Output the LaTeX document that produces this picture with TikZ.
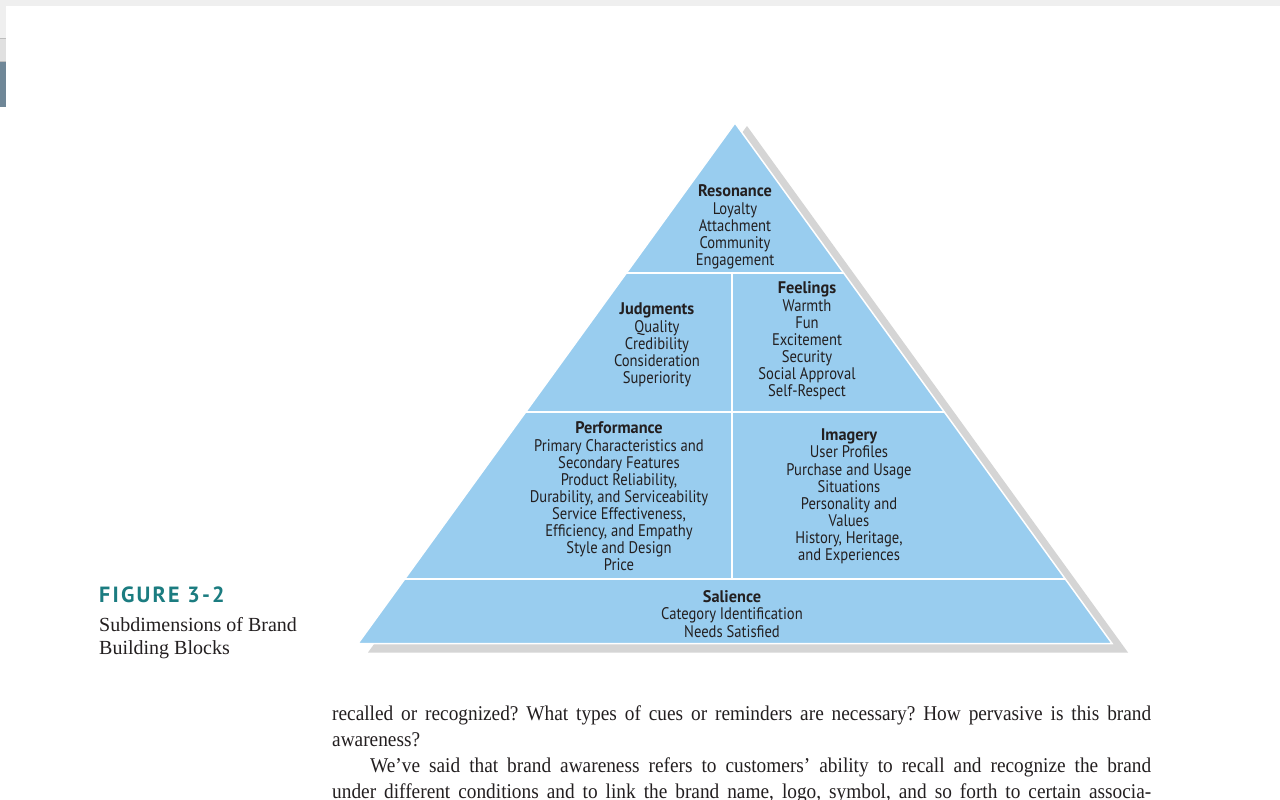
\documentclass[tikz,border=0pt]{standalone}
\usepackage{fontspec}
\usetikzlibrary{calc}
\setmainfont{Liberation Serif}
\newfontfamily\pyr[FakeStretch=0.87]{PT Sans}
\newfontfamily\pyrb[FakeStretch=0.97]{PT Sans Bold}
\newfontfamily\figf[LetterSpace=10]{PT Sans}
\newfontfamily\bodyf[FakeStretch=0.92]{Liberation Serif}
\definecolor{pyblue}{HTML}{99CDEF}
\definecolor{shadowgray}{HTML}{D5D5D5}
\definecolor{figteal}{HTML}{1B7C80}
\definecolor{txt}{HTML}{231F20}
\definecolor{chromeA}{HTML}{EFEFEF}
\definecolor{chromeB}{HTML}{E0E0E0}
\definecolor{chromeline}{HTML}{BDBDBD}
\definecolor{slate}{HTML}{6F8797}
\newcommand{\hd}[1]{{\pyrb #1}}
\begin{document}
\frenchspacing
\begin{tikzpicture}[x=1pt,y=-1pt,
  block/.style={font=\pyr\fontsize{16.8}{17.1}\selectfont, align=center, text=txt, inner sep=0pt},
  divider/.style={draw=white, line width=2pt},
  body/.style={font=\bodyf\fontsize{21}{26}\selectfont, text=txt, inner sep=0pt, anchor=base west},
  caption/.style={font=\fontsize{20}{23}\selectfont, text=txt, inner sep=0pt, anchor=base west}]
\useasboundingbox (0,0) rectangle (1280,800);
\fill[white] (0,0) rectangle (1280,800);
% window chrome
\fill[chromeA] (0,0) rectangle (1280,6);
\fill[chromeA] (0,6) rectangle (6,38);
\fill[chromeB] (0,39) rectangle (6,61);
\draw[chromeline] (0,38.5) -- (6,38.5);
\draw[chromeline] (0,61.5) -- (6,61.5);
\fill[slate] (0,62) rectangle (6,107);
% pyramid
\coordinate (apex) at (735,123);
\coordinate (bl) at (358,643.5);
\coordinate (br) at (1112,643.5);
\coordinate (sapex) at (747,126);
\coordinate (sbl) at (368,652.5);
\coordinate (sbr) at (1128,652.5);
\fill[shadowgray] (sapex) -- (sbr) -- (sbl) -- cycle;
\filldraw[fill=pyblue, draw=white, line width=1.5pt] (apex) -- (br) -- (bl) -- cycle;
\coordinate (l1) at ($(apex)!0.2885!(bl)$);
\coordinate (r1) at ($(apex)!0.2885!(br)$);
\coordinate (l2) at ($(apex)!0.5558!(bl)$);
\coordinate (r2) at ($(apex)!0.5558!(br)$);
\coordinate (l3) at ($(apex)!0.8769!(bl)$);
\coordinate (r3) at ($(apex)!0.8769!(br)$);
\draw[divider] (l1) -- (r1);
\draw[divider] (l2) -- (r2);
\draw[divider] (l3) -- (r3);
\coordinate (v1) at (731.5,273);
\coordinate (v2) at (731.5,579);
\draw[divider] (v1) -- (v2);
% texts
\node[block] (res) at (735,227) {\hd{Resonance}\\Loyalty\\Attachment\\Community\\Engagement};
\node[block] (jud) at (657,345) {\hd{Judgments}\\Quality\\Credibility\\Consideration\\Superiority};
\node[block] (fee) at (807,341) {\hd{Feelings}\\Warmth\\Fun\\Excitement\\Security\\Social Approval\\Self-Respect};
\node[block] (per) at (619,496.5) {\hd{Performance}\\Primary Characteristics and\\Secondary Features\\Product Reliability,\\Durability, and Serviceability\\Service Effectiveness,\\Efficiency, and Empathy\\Style and Design\\Price};
\node[block] (ima) at (849,496.5) {\hd{Imagery}\\User Profiles\\Purchase and Usage\\Situations\\Personality and\\Values\\History, Heritage,\\and Experiences};
\node[block] (sal) at (732,614) {\hd{Salience}\\Category Identification\\Needs Satisfied};
% caption
\node[anchor=base west, inner sep=0pt, text=figteal, font=\figf\bfseries\fontsize{22}{22}\selectfont] (fig) at (99,602) {FIGURE 3-2};
\node[caption] (cap1) at (99,631) {Subdimensions of Brand};
\node[caption] (cap2) at (99,654) {Building Blocks};
% body text
\node[body] (b1) at (332,720) {\makebox[819pt][s]{recalled or recognized? What types of cues or reminders are necessary? How pervasive is this brand}};
\node[body] (b2) at (332,746) {awareness?};
\node[body] (b3) at (370,772) {\makebox[781pt][s]{We’ve said that brand awareness refers to customers’ ability to recall and recognize the brand}};
\node[body] (b4) at (332,798) {\makebox[819pt][s]{under different conditions and to link the brand name, logo, symbol, and so forth to certain associa-}};
\end{tikzpicture}
\end{document}
